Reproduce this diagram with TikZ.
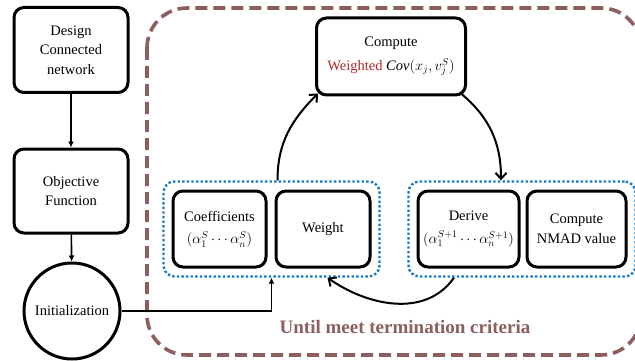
\documentclass[tikz,border=0pt]{standalone}
\usepackage{fontspec}
\setmainfont{Liberation Serif}
\usepackage{tikz}
\usepackage{xcolor}
\usetikzlibrary{arrows.meta,positioning,fit}

\definecolor{loopbrown}{RGB}{140,94,94}
\definecolor{dotblue}{RGB}{20,120,205}
\definecolor{wred}{RGB}{178,40,40}

\tikzset{
  stepbox/.style={draw,line width=3pt,rounded corners=10pt,align=center,inner sep=2pt,
    font=\fontsize{14.5}{19.5}\selectfont},
  initnode/.style={draw,circle,line width=3pt,minimum size=96pt,inner sep=0pt,
    font=\fontsize{14.5}{19.5}\selectfont},
  grpbox/.style={draw=dotblue,line width=2.4pt,dash pattern=on 2.4pt off 2.2pt,
    rounded corners=11pt,inner sep=8pt},
  flow/.style={-{Latex[length=6pt,width=6pt]},line width=1.6pt},
  loopflow/.style={-{Straight Barb[length=6pt,width=11pt]},line width=2pt},
}

\begin{document}
\begin{tikzpicture}[x=1pt,y=-1pt]
\useasboundingbox (0,0) rectangle (635,361);
% outer loop frame
\draw[loopbrown,line width=3.6pt,dash pattern=on 12pt off 6pt,rounded corners=40pt] (147,8) rectangle (641,355);
\node[loopbrown,font=\bfseries\fontsize{19}{22}\selectfont] (until) at (405,327) {Until meet termination criteria};
% left column
\node[stepbox,minimum width=114pt,minimum height=85pt] (design) at (71,50) {Design\\Connected\\network};
\node[stepbox,minimum width=114pt,minimum height=84pt] (objective) at (71,191) {Objective\\Function};
\node[initnode] (init) at (72,311) {Initialization};
% loop steps
\node[stepbox,minimum width=149pt,minimum height=77pt] (compute) at (391,56.5)
  {Compute\\[4pt]\textcolor{wred}{Weighted} $\mathit{Cov}(x_j,v_j^S)$};
\node[stepbox,minimum width=93pt,minimum height=76pt] (coef) at (219.5,229)
  {Coefficients\\[3pt]$(\alpha_1^S\cdots\alpha_n^S)$};
\node[stepbox,minimum width=94pt,minimum height=76pt] (weight) at (323,229) {Weight};
\node[stepbox,minimum width=101pt,minimum height=76pt] (derive) at (468.5,229)
  {Derive\\[3pt]$(\alpha_1^{S+1}\cdots\alpha_n^{S+1})$};
\node[stepbox,minimum width=99pt,minimum height=76pt] (nmad) at (576.5,229) {Compute\\NMAD value};
\node[grpbox,fit=(coef)(weight)] (leftgrp) {};
\node[grpbox,fit=(derive)(nmad)] (rightgrp) {};
% connectors
\draw[flow] (design) -- (objective);
\draw[flow] (objective) -- (init);
\draw[flow] (init.east) -| (leftgrp.south);
\draw[loopflow] ([xshift=6pt]leftgrp.north) to[out=90,in=-135] ([xshift=3pt,yshift=3pt]compute.south west);
\draw[loopflow] ([xshift=-6pt,yshift=3pt]compute.south east) to[out=-40,in=90] ([xshift=-21pt]rightgrp.north);
\draw[loopflow] ([xshift=-68pt]rightgrp.south) to[out=-125,in=-35] ([xshift=56pt]leftgrp.south);
\end{tikzpicture}
\end{document}
